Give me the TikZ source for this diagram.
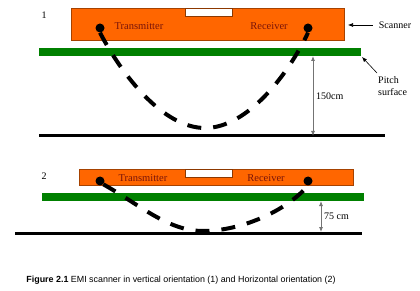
\documentclass[tikz,border=0pt]{standalone}
\usepackage{fontspec}
\setmainfont{Liberation Serif}
\setsansfont{Liberation Sans}
\usetikzlibrary{calc,arrows.meta}
\definecolor{scanorange}{RGB}{255,102,0}
\definecolor{pitchgreen}{RGB}{0,128,0}
\definecolor{coilred}{RGB}{120,20,10}
\tikzset{
  scanbox/.style={fill=scanorange,draw=scanorange!65!black,line width=0.4pt},
  notchbox/.style={fill=white,draw=scanorange!55!black,line width=0.4pt},
  pitchbar/.style={fill=pitchgreen},
  groundline/.style={draw=black,line width=3pt},
  coildot/.style={circle,fill=black,inner sep=0pt,minimum size=9pt},
  fieldpath/.style={line width=4pt,dash pattern=on 14pt off 12pt},
  dimline/.style={draw=black!55,line width=0.8pt,{Latex[length=5pt,width=4pt]}-{Latex[length=5pt,width=4pt]}},
  callout/.style={draw=black,line width=0.6pt,-{Latex[length=5pt,width=4pt]}},
  coillabel/.style={text=coilred,inner sep=0pt,font=\fontsize{10.5}{12}\selectfont},
  plainlabel/.style={inner sep=0pt,align=left,font=\fontsize{10}{12}\selectfont},
}
% scanner housing: x1, y1, x2, y2, notch bottom
\newcommand{\scanhouse}[5]{%
  \draw[scanbox] (#1,#2) rectangle (#3,#4);
  \draw[notchbox] (185,#2) rectangle (232,#5);}

\begin{document}
\begin{tikzpicture}[x=1pt,y=-1pt]
  \useasboundingbox (0,0) rectangle (420,291);

  % vertical orientation
  \node[plainlabel] (num1) at (44,15) {1};
  \scanhouse{71}{8}{344}{40}{16}
  \fill[pitchbar] (39,48) rectangle (361,56);
  \draw[groundline] (39,136) -- (385,136);
  \node[coildot] (tx1) at (100,28) {};
  \node[coildot] (rx1) at (308,28) {};
  \node[coillabel] (tl1) at (139,26) {Transmitter};
  \node[coillabel] (rl1) at (269,26) {Receiver};
  \draw[fieldpath] (tx1.south) .. controls (122,75) and (163,128) .. (205,128)
        .. controls (247,128) and (288,75) .. (rx1.south);
  \coordinate (top1) at (313,56);
  \coordinate (bot1) at (313,136);
  \draw[dimline] (top1) -- (bot1);
  \node[plainlabel,anchor=west] (h1) at (316,96) {150cm};
  \node[plainlabel] (scn) at (395,25) {Scanner};
  \coordinate (boxedge) at (348,25);
  \draw[callout] (scn.west) ++(-6,0) -- (boxedge);
  \node[plainlabel,anchor=north west] (pitch) at (378,76) {Pitch\\surface};
  \coordinate (barend) at (362,57);
  \draw[callout] (377,73) -- (barend);

  % horizontal orientation
  \node[plainlabel] (num2) at (44,176) {2};
  \scanhouse{79}{169}{353}{185}{177}
  \fill[pitchbar] (42,193) rectangle (364,201);
  \draw[groundline] (15,233) -- (362,233);
  \node[coildot] (tx2) at (100,181) {};
  \node[coildot] (rx2) at (308,181) {};
  \node[coillabel] (tl2) at (143,178) {Transmitter};
  \node[coillabel] (rl2) at (266,178) {Receiver};
  \draw[fieldpath] (tx2.south east) .. controls (140,205) and (168,231) .. (203,231)
        .. controls (240,231) and (285,212) .. (rx2.south);
  \coordinate (top2) at (321,201);
  \coordinate (bot2) at (321,232);
  \draw[dimline] (top2) -- (bot2);
  \node[plainlabel,anchor=west] (h2) at (324,216) {75 cm};

  \node[inner sep=0pt,font=\sffamily\fontsize{8.9}{10}\selectfont] (cap) at (181,280)
    {\textbf{Figure 2.1} EMI scanner in vertical orientation (1) and Horizontal orientation (2)};
\end{tikzpicture}
\end{document}
